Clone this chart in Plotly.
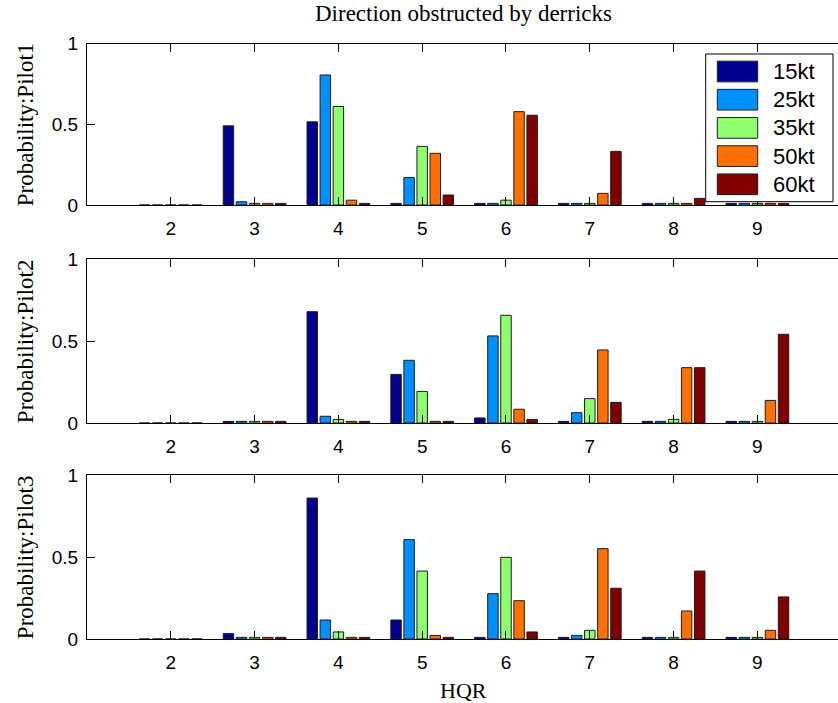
import plotly.graph_objects as go

# ---- data ----
hqr = [2, 3, 4, 5, 6, 7, 8, 9]
series_names = ["15kt", "25kt", "35kt", "50kt", "60kt"]
series_colors = ["#00008F", "#008FFF", "#8FFF70", "#FF7000", "#800000"]

# Pilot1 : per series, values at HQR 2..9
pilot1_15kt = [0.0, 0.49, 0.515, 0.01, 0.01, 0.01, 0.01, 0.01]
pilot1_25kt = [0.0, 0.02, 0.805, 0.17, 0.01, 0.01, 0.01, 0.01]
pilot1_35kt = [0.0, 0.01, 0.61, 0.363, 0.03, 0.01, 0.01, 0.01]
pilot1_50kt = [0.0, 0.01, 0.03, 0.32, 0.578, 0.072, 0.01, 0.01]
pilot1_60kt = [0.0, 0.01, 0.01, 0.062, 0.556, 0.332, 0.041, 0.01]

pilot2_15kt = [0.0, 0.01, 0.68, 0.297, 0.031, 0.01, 0.01, 0.01]
pilot2_25kt = [0.0, 0.01, 0.041, 0.383, 0.532, 0.063, 0.01, 0.01]
pilot2_35kt = [0.0, 0.01, 0.022, 0.193, 0.658, 0.149, 0.022, 0.01]
pilot2_50kt = [0.0, 0.01, 0.01, 0.01, 0.084, 0.446, 0.338, 0.138]
pilot2_60kt = [0.0, 0.01, 0.01, 0.01, 0.022, 0.126, 0.338, 0.542]

pilot3_15kt = [0.0, 0.033, 0.861, 0.116, 0.01, 0.01, 0.01, 0.01]
pilot3_25kt = [0.0, 0.01, 0.116, 0.607, 0.277, 0.022, 0.01, 0.01]
pilot3_35kt = [0.0, 0.01, 0.043, 0.415, 0.499, 0.053, 0.01, 0.01]
pilot3_50kt = [0.0, 0.01, 0.01, 0.022, 0.234, 0.552, 0.171, 0.053]
pilot3_60kt = [0.0, 0.01, 0.01, 0.01, 0.043, 0.31, 0.415, 0.257]

pilots = [
    ("Probability:Pilot1", [pilot1_15kt, pilot1_25kt, pilot1_35kt, pilot1_50kt, pilot1_60kt]),
    ("Probability:Pilot2", [pilot2_15kt, pilot2_25kt, pilot2_35kt, pilot2_50kt, pilot2_60kt]),
    ("Probability:Pilot3", [pilot3_15kt, pilot3_25kt, pilot3_35kt, pilot3_50kt, pilot3_60kt]),
]
x_ticks = [2, 3, 4, 5, 6, 7, 8, 9]
y_ticks = [0, 0.5, 1]
y_tick_text = ["0", "0.5", "1"]
title_text = "Direction obstructed by derricks"
x_title = "HQR"

# ---- layout geometry (pixels) ----
W, H = 838, 703
left_px = 87
panels_px = [(43.5, 205), (259.3, 423), (475.3, 639)]  # (top, bottom)

def py(v):
    return 1 - v / H

def px(v):
    return v / W

fig = go.Figure()
layout = dict(
    width=W, height=H,
    margin=dict(l=0, r=0, t=0, b=0),
    paper_bgcolor="white", plot_bgcolor="white",
    barmode="group", bargap=0.22, bargroupgap=0.2,
    showlegend=False,
)

tick_font = dict(family="Liberation Sans, Arial, sans-serif", size=19, color="black")
serif = "Liberation Serif, Times New Roman, serif"
annotations = []

for k, (label, vals) in enumerate(pilots):
    xa = "x" if k == 0 else f"x{k+1}"
    ya = "y" if k == 0 else f"y{k+1}"
    for name, color, v in zip(series_names, series_colors, vals):
        fig.add_trace(go.Bar(
            x=hqr, y=v, name=name, xaxis=xa, yaxis=ya,
            marker=dict(color=color, line=dict(color="rgb(30,30,30)", width=1)),
            showlegend=False,
        ))
    top, bot = panels_px[k]
    xkey = "xaxis" if k == 0 else f"xaxis{k+1}"
    ykey = "yaxis" if k == 0 else f"yaxis{k+1}"
    layout[xkey] = dict(
        domain=[px(left_px), 1], anchor=ya, range=[1, 9.962],
        tickvals=x_ticks, ticks="inside", ticklen=8, tickcolor="black",
        showline=True, linecolor="black", linewidth=1, mirror="allticks",
        showgrid=False, zeroline=False, tickfont=tick_font,
        ticklabelstandoff=6, automargin=False,
    )
    layout[ykey] = dict(
        domain=[py(bot), py(top)], anchor=xa, range=[0, 1],
        tickvals=y_ticks, ticktext=y_tick_text, ticks="inside", ticklen=8,
        tickcolor="black", showline=True, linecolor="black", linewidth=1,
        mirror=False, showgrid=False, zeroline=False, tickfont=tick_font,
        ticklabelstandoff=4, automargin=False,
    )
    annotations.append(dict(
        text=label, textangle=-90, xref="paper", yref="paper",
        x=px(25), y=py((top + bot) / 2), xanchor="center", yanchor="middle",
        showarrow=False, font=dict(family=serif, size=23, color="black"),
    ))

annotations.append(dict(
    text=title_text, xref="paper", yref="paper", x=px(463), y=py(14),
    xanchor="center", yanchor="middle", showarrow=False,
    font=dict(family=serif, size=23, color="black"),
))
annotations.append(dict(
    text=x_title, xref="paper", yref="paper", x=px(464), y=py(690),
    xanchor="center", yanchor="middle", showarrow=False,
    font=dict(family=serif, size=22, color="black"),
))

# ---- legend (drawn on top of the first panel) ----
shapes = []
leg_box = (705.7, 54, 833, 201.7)
shapes.append(dict(type="rect", xref="paper", yref="paper",
                   x0=px(leg_box[0]), x1=px(leg_box[2]),
                   y0=py(leg_box[3]), y1=py(leg_box[1]),
                   fillcolor="white", line=dict(color="black", width=1),
                   layer="above"))
row0, row_step, sw_h = 71.5, 28.2, 20.7
for i, (name, color) in enumerate(zip(series_names, series_colors)):
    cy = row0 + i * row_step
    shapes.append(dict(type="rect", xref="paper", yref="paper",
                       x0=px(717.3), x1=px(757.7),
                       y0=py(cy + sw_h / 2), y1=py(cy - sw_h / 2),
                       fillcolor=color, line=dict(color="rgb(30,30,30)", width=1),
                       layer="above"))
    annotations.append(dict(
        text=name, xref="paper", yref="paper", x=px(771), y=py(cy),
        xanchor="left", yanchor="middle", showarrow=False,
        font=dict(family="Liberation Sans, Arial, sans-serif", size=22, color="black"),
    ))

layout["annotations"] = annotations
layout["shapes"] = shapes
fig.update_layout(**layout)
fig.write_html("out.html")
